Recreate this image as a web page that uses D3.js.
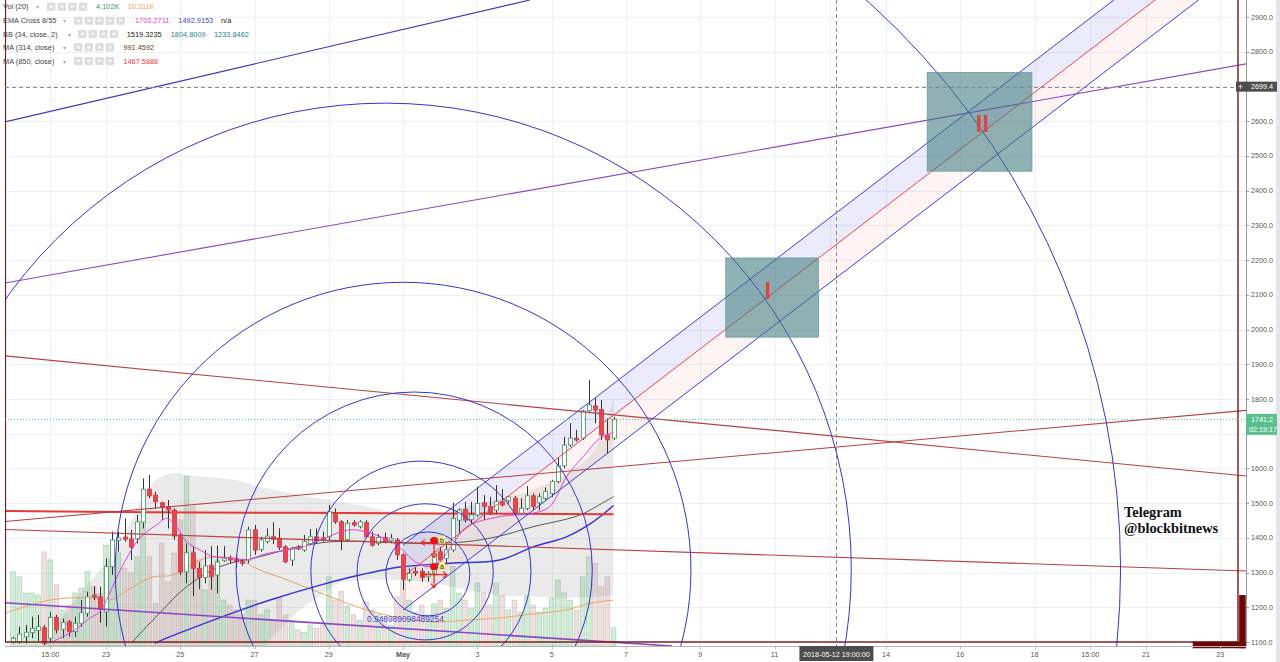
<!DOCTYPE html>
<html><head><meta charset="utf-8">
<script src="https://cdn.jsdelivr.net/npm/d3@7"></script>
<style>html,body{margin:0;padding:0;background:#fff;overflow:hidden}svg{display:block;font-family:"Liberation Sans",Arial,sans-serif}</style>
</head><body><svg id="c" width="1280" height="662"></svg>
<script>
// ---------------- DATA ----------------
const candleStart = "2018-04-20T12:00:00Z";   // first 4h candle (UTC)
const candleStepHours = 4;
const opens  = [1101,1101,1115,1127,1133,1141,1111,1171,1137,1158,1130,1154,1183,1235,1230,1187,1317,1392,1402,1397,1397,1445,1540,1523,1501,1490,1480,1405,1302,1357,1312,1286,1321,1293,1334,1340,1340,1331,1336,1423,1367,1390,1403,1399,1374,1336,1373,1365,1384,1403,1400,1403,1471,1446,1396,1444,1432,1444,1403,1384,1401,1392,1394,1351,1279,1303,1303,1288,1296,1360,1341,1365,1451,1482,1453,1466,1501,1490,1480,1504,1507,1514,1471,1485,1521,1501,1514,1528,1562,1607,1667,1687,1687,1766,1780,1770,1696,1687];
const highs  = [1115,1144,1149,1173,1178,1149,1187,1178,1168,1163,1173,1221,1245,1261,1259,1341,1418,1418,1456,1423,1466,1571,1581,1533,1504,1509,1485,1413,1384,1374,1331,1365,1376,1378,1376,1349,1350,1340,1432,1437,1403,1427,1445,1427,1379,1374,1379,1408,1425,1427,1418,1495,1485,1451,1451,1451,1451,1451,1418,1411,1415,1411,1399,1355,1312,1316,1312,1303,1362,1374,1379,1501,1485,1504,1504,1547,1523,1518,1552,1540,1521,1521,1514,1549,1528,1528,1545,1567,1632,1691,1730,1711,1768,1855,1802,1797,1744,1749];
const lows   = [1096,1096,1096,1111,1101,1091,1101,1125,1111,1115,1115,1144,1173,1221,1156,1144,1293,1360,1389,1336,1384,1427,1514,1485,1451,1427,1394,1293,1269,1232,1252,1269,1250,1240,1331,1326,1312,1320,1327,1351,1360,1384,1382,1365,1327,1319,1365,1360,1379,1384,1389,1394,1440,1365,1389,1432,1427,1401,1374,1379,1384,1384,1336,1250,1274,1290,1274,1274,1290,1312,1327,1360,1413,1444,1440,1461,1451,1466,1471,1490,1499,1466,1466,1480,1480,1480,1509,1518,1557,1600,1662,1677,1682,1763,1730,1682,1643,1682];
const closes = [1111,1123,1128,1139,1144,1096,1171,1135,1156,1130,1154,1184,1230,1229,1194,1317,1394,1400,1396,1373,1446,1540,1521,1504,1488,1480,1405,1302,1357,1312,1286,1319,1288,1330,1340,1336,1331,1327,1423,1365,1394,1405,1396,1373,1331,1370,1368,1389,1403,1392,1394,1475,1446,1394,1442,1437,1446,1403,1379,1401,1389,1399,1351,1281,1298,1298,1286,1298,1355,1336,1365,1456,1480,1451,1466,1499,1490,1471,1504,1495,1518,1471,1485,1521,1490,1518,1533,1562,1607,1667,1687,1682,1765,1783,1768,1696,1682,1741.2];
const volumesK = [16.7,15.5,11.8,11.9,11.4,21.1,19.3,13.7,8.1,9.2,11.9,13.0,16.7,13.3,11.8,22.6,19.3,20.9,17.5,16.4,20.0,27.9,20.0,9.6,23.0,14.4,20.8,28.3,38.1,31.2,19.3,12.6,15.9,19.3,10.3,9.2,8.1,7.0,10.3,10.3,7.0,8.1,5.8,10.8,7.0,5.8,3.6,3.1,4.7,4.0,4.7,15.5,10.3,12.2,9.0,7.0,5.8,9.9,8.1,7.0,6.3,4.7,11.0,14.8,10.3,7.6,9.2,7.0,9.4,10.3,8.5,17.8,11.8,10.3,8.5,14.1,11.9,9.2,14.1,11.4,8.1,10.3,7.6,11.2,9.2,7.6,8.5,10.8,14.8,11.9,10.3,8.1,15.5,20.0,18.5,13.3,15.5,4.1];

// indicator lines: [candle index, value]
const ema8Idx  = [5.9,10,12.4,14,15.6,17.3,20,21.6,23.2,24.8,26.4,28,30.2,32.3,35.5,37.7,41,46.3,49,54.4,58.1,62,64.6,66.8,68.9,71.1,73.3,78.6,84,86.7,89.4,92.1,94.8,97];
const ema8Val  = [1097,1135,1169,1187,1241,1307,1389,1418,1437,1456,1432,1389,1365,1346,1342,1336,1355,1371,1389,1423,1411,1379,1336,1317,1332,1384,1432,1461,1471,1490,1576,1634,1687,1703.3];
const ema55Idx = [22.9,26.9,35.5,41.5,49.6,56,62.5,70.6,78.6,84,89.4,93.2,97];
const ema55Val = [1097,1126,1184,1221,1264,1293,1316,1327,1336,1374,1403,1440,1492.9];
const bbMidIdx = [19.1,23.7,28,33.4,39.9,46.3,51,56,62.5,67.8,73.3,78.6,84,89.4,92,97];
const bbMidVal = [1097,1184,1259,1317,1346,1375,1388,1390,1386,1385,1389,1405,1432,1454,1469,1519.3];
const bbUpIdx  = [4.3,10.8,14,17.3,20.5,23.2,25.8,28,35.5,39.9,47.9,57.1,62.5,70.6,73.3,84,92,94.8,97];
const bbUpVal  = [1077,1240,1307,1385,1500,1567,1587,1581,1567,1547,1518,1490,1472,1472,1490,1538,1616,1682,1804.8];
const bbLoIdx  = [4.3,22.1,35,41.5,45.8,49.6,52.8,57.6,62.5,67.8,73.3,78.6,84,89.4,97];
const bbLoVal  = [700,930,990,1106,1184,1235,1270,1279,1279,1270,1250,1235,1230,1227,1233.8];
const ma850Idx = [-1.3,22,46,97];
const ma850Val = [1477,1474,1472,1467.6];
const volMaIdx = [-2.1,5.9,12.4,15.6,19.4,22.6,25.8,30.2,32.9,36.6,39.9,43.6,46.3,51.7,57.1,62.5,67.8,73.3,78.6,84,89.4,93.2,97];
const volMaVal = [7.0,10.3,10.8,10.3,13.3,15.5,15.9,19.3,20.0,19.3,17.0,15.2,13.7,10.8,8.1,6.3,5.4,5.8,6.3,7.2,8.1,9.6,10.3];

// trend lines (drawing tools): start/end time & price
const trendT1 = ["2018-04-20T06:45:00Z","2018-04-20T06:45:00Z","2018-04-20T06:45:00Z","2018-04-20T06:45:00Z","2018-04-20T06:45:00Z","2018-04-20T06:45:00Z"];
const trendP1 = [2598,2134,1924,1447,1424,1213];
const trendT2 = ["2018-05-04T10:00:00Z","2018-05-23T16:40:00Z","2018-05-23T16:40:00Z","2018-05-23T16:40:00Z","2018-05-23T16:40:00Z","2018-05-08T05:45:00Z"];
const trendP2 = [2949,2765,1578,1767,1304.5,1088.5];

// parallel channel: start / end anchor
const channelT = ["2018-05-01T00:00:00Z","2018-05-24T00:00:00Z"];
const channelUpper = [1379,3266];
const channelMid   = [1288,3175];
const channelLower = [1192,3079];

// fib circles
const fibLevels   = [0.236,0.382,0.618,1,1.618,2.618,4.236];
const fibCenterT  = ["2018-05-01T16:00:00Z","2018-05-01T14:15:00Z","2018-05-01T11:30:00Z","2018-05-01T07:10:00Z","2018-05-01T00:00:00Z","2018-04-30T12:30:00Z","2018-04-29T18:00:00Z"];
const fibCenterP  = [1296,1302,1304,1307,1307,1310,1310];
const fibRadiusP  = [121,196,317,513,829,1342,2200];

// target boxes
const boxT1 = ["2018-05-09T16:30:00Z","2018-05-15T02:40:00Z"];
const boxT2 = ["2018-05-12T04:20:00Z","2018-05-17T22:20:00Z"];
const boxP1 = [1978,2456];
const boxP2 = [2206,2740];
const boxLabels = ["I","II"];
const boxLabelT = ["2018-05-10T19:40:00Z","2018-05-16T14:20:00Z"];
const boxLabelP = [2111,2592];

// frame rectangle and corner block
const frameT = ["2018-04-20T07:00:00Z","2018-05-23T11:30:00Z"];
const frameP = [1100,3100];
const blockHT = ["2018-05-22T06:15:00Z","2018-05-23T16:30:00Z"]; const blockHP = [1082,1101];
const blockVT = ["2018-05-23T12:15:00Z","2018-05-23T16:30:00Z"]; const blockVP = [1082,1235];

// points a / b
const abLabels = ["b","a"];
const abT = ["2018-05-01T20:00:00Z","2018-05-01T20:00:00Z"];
const abP = [1392,1317];

// crosshair and prices
const crossT = "2018-05-12T16:00:00Z";
const crossTLabel = "2018-05-12 19:00:00";
const crossP = 2699.4;
const lastPrice = 1741.2;
const countdown = "02:19:17";

// axis ticks
const priceTicks = [1100,1200,1300,1400,1500,1600,1700,1800,1900,2000,2100,2200,2300,2400,2500,2600,2700,2800,2900];
const timeTicks = ["2018-04-21T12:00:00Z","2018-04-23T00:00:00Z","2018-04-25T00:00:00Z","2018-04-27T00:00:00Z","2018-04-29T00:00:00Z","2018-05-01T00:00:00Z","2018-05-03T00:00:00Z","2018-05-05T00:00:00Z","2018-05-07T00:00:00Z","2018-05-09T00:00:00Z","2018-05-11T00:00:00Z","2018-05-12T12:00:00Z","2018-05-14T00:00:00Z","2018-05-16T00:00:00Z","2018-05-18T00:00:00Z","2018-05-19T12:00:00Z","2018-05-21T00:00:00Z","2018-05-23T00:00:00Z"];
const timeTickLabels = ["15:00","23","25","27","29","May","3","5","7","9","11","","14","16","18","15:00","21","23"];

// texts
const fibText = "0.948989098489254", fibTextT = "2018-04-30T00:40:00Z", fibTextP = 1157;
const tgLines = ["Telegram","@blockbitnews"], tgT = "2018-05-20T09:50:00Z", tgP = [1460,1414];

// legend
const legendNames = ["Vol (20)","EMA Cross 8/55","BB (34, close, 2)","MA (314, close)","MA (850, close)"];
const legendValues = [["4.102K","10.311K"],["1703.2711","1492.9153","n/a"],["1519.3235","1804.8009","1233.8462"],["991.4592"],["1467.5888"]];

// ---------------- DRAW ----------------
const P = {l:5, r:1246, t:0, b:646};
const x = d3.scaleUtc().domain([new Date("2018-04-20T06:45:00Z"), new Date("2018-05-23T16:40:00Z")]).range([P.l, P.r]);
const y = d3.scaleLinear().domain([1100,2900]).range([642,17]);
const vy = d3.scaleLinear().domain([0,40]).range([P.b, 467.6]);
const T = s => new Date(s);
const tAt = i => new Date(Date.parse(candleStart) + i*candleStepHours*3600e3);
const svg = d3.select("#c");
svg.append("rect").attr("width",1280).attr("height",662).attr("fill","#fff");
svg.append("defs").append("clipPath").attr("id","clip").append("rect")
  .attr("x",P.l).attr("y",P.t).attr("width",P.r-P.l).attr("height",P.b-P.t);
const g = svg.append("g").attr("clip-path","url(#clip)");

// grid
g.selectAll(".hg").data(priceTicks).join("line").attr("x1",P.l).attr("x2",P.r)
  .attr("y1",d=>Math.round(y(d))+0.5).attr("y2",d=>Math.round(y(d))+0.5).attr("stroke","#edf0f4");
g.selectAll(".vg").data(timeTicks).join("line").attr("y1",P.t).attr("y2",P.b)
  .attr("x1",d=>Math.round(x(T(d)))+0.5).attr("x2",d=>Math.round(x(T(d)))+0.5).attr("stroke","#edf0f4");

const idxs = d3.range(opens.length);
// volume
g.selectAll(".vol").data(idxs).join("rect")
  .attr("x",i=>x(tAt(i))-2.4).attr("width",4.8)
  .attr("y",i=>vy(volumesK[i])).attr("height",i=>P.b-vy(volumesK[i]))
  .attr("fill",i=>closes[i]>=opens[i]?"rgba(76,170,100,0.24)":"rgba(165,100,100,0.2)")
  .attr("stroke",i=>closes[i]>=opens[i]?"rgba(76,170,100,0.45)":"rgba(165,100,100,0.35)").attr("stroke-width",0.6);

const ptsOf = (ix,vals,sc) => ix.map((k,j)=>[x(tAt(k)), sc(vals[j])]);
const lineGen = d3.line().curve(d3.curveCatmullRom);
// volume MA
g.append("path").attr("d",lineGen(ptsOf(volMaIdx,volMaVal,vy))).attr("fill","none").attr("stroke","#f4a460").attr("stroke-width",1);

// BB band
const up = ptsOf(bbUpIdx,bbUpVal,y), lo = ptsOf(bbLoIdx,bbLoVal,y).reverse();
g.append("path").attr("d",lineGen(up)+"L"+lineGen(lo).slice(1)+"Z").attr("fill","rgba(150,150,150,0.2)").attr("stroke","none");

// channel fills
const cx0 = x(T(channelT[0])), cx1 = x(T(channelT[1]));
g.append("path").attr("d",`M${cx0},${y(channelUpper[0])}L${cx1},${y(channelUpper[1])}L${cx1},${y(channelMid[1])}L${cx0},${y(channelMid[0])}Z`).attr("fill","rgba(90,90,230,0.12)");
g.append("path").attr("d",`M${cx0},${y(channelMid[0])}L${cx1},${y(channelMid[1])}L${cx1},${y(channelLower[1])}L${cx0},${y(channelLower[0])}Z`).attr("fill","rgba(240,120,120,0.08)");

// MA lines
g.append("path").attr("d",lineGen(ptsOf(bbMidIdx,bbMidVal,y))).attr("fill","none").attr("stroke","#555").attr("stroke-width",1);
g.append("path").attr("d",lineGen(ptsOf(ema55Idx,ema55Val,y))).attr("fill","none").attr("stroke","#3434d4").attr("stroke-width",1.4);
g.append("path").attr("d",lineGen(ptsOf(ma850Idx,ma850Val,y))).attr("fill","none").attr("stroke","#e53935").attr("stroke-width",2);

// candles
const cg = g.append("g");
cg.selectAll(".wick").data(idxs).join("line")
  .attr("x1",i=>Math.round(x(tAt(i)))+0.5).attr("x2",i=>Math.round(x(tAt(i)))+0.5)
  .attr("y1",i=>y(highs[i])).attr("y2",i=>y(lows[i])).attr("stroke","#333").attr("stroke-width",1);
cg.selectAll(".body").data(idxs).join("rect")
  .attr("x",i=>Math.round(x(tAt(i)))-1.5).attr("width",4)
  .attr("y",i=>y(Math.max(opens[i],closes[i]))).attr("height",i=>Math.max(1,Math.abs(y(opens[i])-y(closes[i]))))
  .attr("fill",i=>closes[i]>=opens[i]?"#fff":"#e8454f")
  .attr("stroke",i=>closes[i]>=opens[i]?"#4fa070":"#d8404a").attr("stroke-width",0.9);

// EMA 8
g.append("path").attr("d",lineGen(ptsOf(ema8Idx,ema8Val,y))).attr("fill","none").attr("stroke","#e040e0").attr("stroke-width",1);

// trend lines
const trendColors = ["#3a3ac0","#8e44c8","#b84040","#b84040","#b84040","#8e44c0"];
const trendWidths = [1.1,1.1,1.1,1.1,1.1,1.6];
g.selectAll(".tl").data(trendP1).join("line")
  .attr("x1",(d,i)=>x(T(trendT1[i]))).attr("y1",(d,i)=>y(trendP1[i]))
  .attr("x2",(d,i)=>x(T(trendT2[i]))).attr("y2",(d,i)=>y(trendP2[i]))
  .attr("stroke",(d,i)=>trendColors[i]).attr("stroke-width",(d,i)=>trendWidths[i]);

// channel lines
[[channelUpper,"#3c3ce0"],[channelMid,"#e84545"],[channelLower,"#3c3ce0"]].forEach(([arr,c])=>{
  g.append("line").attr("x1",cx0).attr("y1",y(arr[0])).attr("x2",cx1).attr("y2",y(arr[1])).attr("stroke",c).attr("stroke-width",1);
});

// fib circles
g.selectAll(".fc").data(fibLevels).join("circle")
  .attr("cx",(d,i)=>x(T(fibCenterT[i]))).attr("cy",(d,i)=>y(fibCenterP[i]))
  .attr("r",(d,i)=>y(fibCenterP[i])-y(fibCenterP[i]+fibRadiusP[i]))
  .attr("fill","none").attr("stroke","#3535cf").attr("stroke-width",1);

// boxes
g.selectAll(".bx").data(boxLabels).join("rect")
  .attr("x",(d,i)=>x(T(boxT1[i]))).attr("width",(d,i)=>x(T(boxT2[i]))-x(T(boxT1[i])))
  .attr("y",(d,i)=>y(boxP2[i])).attr("height",(d,i)=>y(boxP1[i])-y(boxP2[i]))
  .attr("fill","#3f7b7e").attr("fill-opacity",0.58).attr("stroke","#6a9a9c").attr("stroke-width",0.8);
g.selectAll(".bl").data(boxLabels).join("text")
  .attr("x",(d,i)=>x(T(boxLabelT[i]))).attr("y",(d,i)=>y(boxLabelP[i])+8.5)
  .attr("text-anchor","middle").attr("font-size",24).attr("font-weight","bold").attr("fill","#d94848").text(d=>d);

// frame rectangle
g.append("rect").attr("x",x(T(frameT[0]))).attr("y",y(frameP[1])).attr("width",x(T(frameT[1]))-x(T(frameT[0])))
  .attr("height",y(frameP[0])-y(frameP[1])).attr("fill","none").attr("stroke","#7a1414").attr("stroke-width",1.4);

// last price dotted line
g.append("line").attr("x1",P.l).attr("x2",P.r).attr("y1",y(lastPrice)).attr("y2",y(lastPrice))
  .attr("stroke","#5fbf91").attr("stroke-dasharray","1,2").attr("stroke-width",1);
// crosshair
g.append("line").attr("x1",P.l).attr("x2",P.r).attr("y1",Math.round(y(crossP))+0.5).attr("y2",Math.round(y(crossP))+0.5)
  .attr("stroke","#8a8a8a").attr("stroke-dasharray","4,3");
g.append("line").attr("y1",P.t).attr("y2",P.b).attr("x1",Math.round(x(T(crossT)))+0.5).attr("x2",Math.round(x(T(crossT)))+0.5)
  .attr("stroke","#8a8a8a").attr("stroke-dasharray","4,3");

// a / b points with handles
abLabels.forEach((lab,i)=>{
  const px = x(T(abT[i])), py = y(abP[i]);
  g.append("ellipse").attr("cx",px).attr("cy",py).attr("rx",4).attr("ry",3.6).attr("fill","#ee1111");
  g.append("rect").attr("x",px+5).attr("y",py-5).attr("width",6).attr("height",8).attr("fill","#f3f07a");
  g.append("text").attr("x",px+8).attr("y",py+2).attr("text-anchor","middle").attr("font-size",7).attr("fill","#222").text(lab);
});
const ax = x(T(abT[1])), ay = y(abP[1]), by = y(abP[0]);
const arrowPaths = [
  `M${ax},${ay+4}L${ax},${ay+20}`, `M${ax-3},${ay+17}L${ax},${ay+21}L${ax+3},${ay+17}`,
  `M${ax},${ay+8}L${ax-12},${ay+8}`, `M${ax-9},${ay+5}L${ax-13},${ay+8}L${ax-9},${ay+11}`,
  `M${ax},${ay+8}L${ax+12},${ay+8}`, `M${ax+9},${ay+5}L${ax+13},${ay+8}L${ax+9},${ay+11}`,
  `M${ax},${by+4}L${ax},${by+16}`, `M${ax-3},${by+13}L${ax},${by+17}L${ax+3},${by+13}`,
  `M${ax-2},${by+2}L${ax-12},${by+2}`, `M${ax-9},${by-1}L${ax-13},${by+2}L${ax-9},${by+5}`
];
g.selectAll(".arw").data(arrowPaths).join("path").attr("d",d=>d).attr("fill","none").attr("stroke","#ee2222").attr("stroke-width",1.2);

// texts on chart
g.append("text").attr("x",x(T(fibTextT))).attr("y",y(fibTextP)).attr("font-size",8.4).attr("fill","#4646d6").text(fibText);
tgLines.forEach((t,i)=>g.append("text").attr("x",x(T(tgT))).attr("y",y(tgP[i]))
  .attr("font-family","'Liberation Serif','DejaVu Serif',serif").attr("font-weight","bold").attr("font-size",14.4).attr("fill","#111").text(t));

// corner block
svg.append("rect").attr("x",x(T(blockHT[0]))).attr("width",x(T(blockHT[1]))-x(T(blockHT[0])))
  .attr("y",y(blockHP[1])).attr("height",y(blockHP[0])-y(blockHP[1])).attr("fill","#6b0606");
svg.append("rect").attr("x",x(T(blockVT[0]))).attr("width",x(T(blockVT[1]))-x(T(blockVT[0])))
  .attr("y",y(blockVP[1])).attr("height",y(blockVP[0])-y(blockVP[1])).attr("fill","#6b0606");

// axes
svg.append("rect").attr("x",1276).attr("y",0).attr("width",4).attr("height",662).attr("fill","#e3e5ea");
svg.append("line").attr("x1",P.r+0.5).attr("x2",P.r+0.5).attr("y1",0).attr("y2",P.b).attr("stroke","#9a9a9a");
svg.append("line").attr("x1",P.l).attr("x2",P.r).attr("y1",P.b+0.5).attr("y2",P.b+0.5).attr("stroke","#b5b5b5");
const yAx = svg.append("g");
yAx.selectAll("line").data(priceTicks).join("line").attr("x1",P.r).attr("x2",P.r+3)
  .attr("y1",d=>Math.round(y(d))+0.5).attr("y2",d=>Math.round(y(d))+0.5).attr("stroke","#9a9a9a");
// tick labels hidden under the crosshair / last-price labels are not drawn (as in the reference)
const visibleTicks = priceTicks.filter(d=>Math.abs(y(d)-y(crossP))>8 && (y(d)<y(lastPrice)-9 || y(d)>y(lastPrice)+19));
yAx.selectAll("text").data(visibleTicks).join("text").attr("x",P.r+5).attr("y",d=>y(d)+2.6)
  .attr("font-size",7.2).attr("fill","#555").text(d=>d3.format(".1f")(d));
const xAx = svg.append("g");
xAx.selectAll("line").data(timeTicks).join("line").attr("y1",P.b).attr("y2",P.b+3)
  .attr("x1",d=>Math.round(x(T(d)))+0.5).attr("x2",d=>Math.round(x(T(d)))+0.5).attr("stroke","#b5b5b5");
xAx.selectAll("text").data(timeTicks.filter((d,i)=>timeTickLabels[i]!=="")).join("text").attr("x",d=>x(T(d))).attr("y",657)
  .attr("text-anchor","middle").attr("font-size",7.2).attr("fill","#555")
  .attr("font-weight",d=>timeTickLabels[timeTicks.indexOf(d)]==="May"?"bold":"normal").text(d=>timeTickLabels[timeTicks.indexOf(d)]);

// price labels
const cyP = y(crossP);
svg.append("rect").attr("x",1236).attr("y",cyP-5).attr("width",41).attr("height",10).attr("fill","#4d4d4d");
svg.append("text").attr("x",1240.5).attr("y",cyP+3).attr("text-anchor","middle").attr("font-size",9).attr("fill","#fff").text("+");
svg.append("text").attr("x",P.r+5).attr("y",cyP+2.6).attr("font-size",7.2).attr("fill","#fff").text(d3.format(".1f")(crossP));
const lyP = y(lastPrice);
svg.append("rect").attr("x",P.r).attr("y",lyP-5.5).attr("width",31).attr("height",21).attr("fill","#5cbf90");
svg.append("text").attr("x",P.r+5).attr("y",lyP+2.6).attr("font-size",7.2).attr("fill","#fff").text(d3.format(".1f")(lastPrice));
svg.append("text").attr("x",P.r+3).attr("y",lyP+12.6).attr("font-size",7.2).attr("fill","#fff").text(countdown);
const cxT = x(T(crossT));
svg.append("rect").attr("x",cxT-37).attr("y",P.b).attr("width",74).attr("height",15).attr("fill","#4d4d4d");
svg.append("text").attr("x",cxT).attr("y",657).attr("text-anchor","middle").attr("font-size",7.2).attr("fill","#fff").text(crossTLabel);

// legend
const legendRowY = [6.7,20.7,34,47.3,61];
const legendCaretX = [36,63,68,63,63];
const legendBoxX = [47,74,78,74,74];
const legendBoxN = [4,5,4,4,4];
const legendValX = [[96,127.7],[135,178.3,221],[126.7,170.7,214],[123.3],[123.3]];
const legendValC = [["#3a9a50","#f3a05a"],["#e040e0","#4040d0","#222"],["#222","#26868a","#26868a"],["#6d3b1b"],["#e53935"]];
const lg = svg.append("g").attr("font-size",7.4);
legendNames.forEach((n,r)=>{
  const yy = legendRowY[r];
  lg.append("text").attr("x",3).attr("y",yy+2.6).attr("fill","#444").text(n);
  lg.append("text").attr("x",legendCaretX[r]).attr("y",yy+2.6).attr("fill","#aaa").attr("font-size",6).text("▾");
  for(let k=0;k<legendBoxN[r];k++){
    lg.append("rect").attr("x",legendBoxX[r]+k*10.6).attr("y",yy-4).attr("width",8.4).attr("height",8).attr("rx",1).attr("fill","#dcdcdc");
    lg.append("rect").attr("x",legendBoxX[r]+k*10.6+2.5).attr("y",yy-1.5).attr("width",3.4).attr("height",3).attr("fill","#f4f4f4");
  }
  legendValues[r].forEach((v,j)=>lg.append("text").attr("x",legendValX[r][j]).attr("y",yy+2.6).attr("fill",legendValC[r][j]).text(v));
});
</script></body></html>
